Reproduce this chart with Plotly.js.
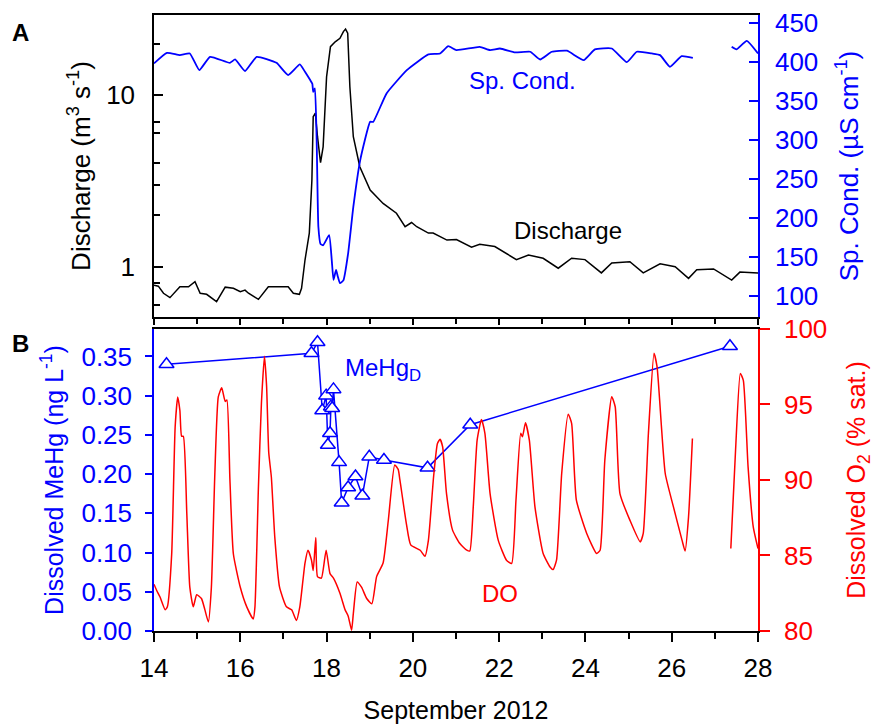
<!DOCTYPE html>
<html>
<head>
<meta charset="utf-8">
<script src="https://cdn.plot.ly/plotly-3.0.1.min.js"></script>
<style>body{margin:0;background:#fff}</style>
</head>
<body>
<div id="chart" style="width:874px;height:724px"></div>
<script>
// Discharge (m3 s-1), panel A, left log axis
const qDays = [14.00,14.10,14.22,14.37,14.60,14.80,14.95,15.07,15.22,15.45,15.65,15.84,16.00,16.11,16.19,16.42,16.65,16.92,17.11,17.23,17.37,17.42,17.50,17.60,17.66,17.69,17.74,17.79,17.86,17.92,18.00,18.09,18.20,18.31,18.39,18.44,18.49,18.54,18.62,18.77,19.01,19.31,19.62,19.82,19.97,20.09,20.36,20.47,20.63,20.79,21.01,21.36,21.55,21.90,22.40,22.68,23.02,23.37,23.68,23.99,24.37,24.61,25.03,25.34,25.73,26.08,26.39,26.58,26.97,27.39,27.58,28.00];
const qValues = [0.78,0.77,0.70,0.66,0.764,0.764,0.818,0.70,0.69,0.625,0.76,0.748,0.715,0.73,0.70,0.645,0.764,0.76,0.764,0.70,0.69,0.748,1.094,1.57,3.2,7.5,7.85,5.73,4.04,5.0,12.8,19.2,20.5,21.5,23.5,24.3,23.0,11.2,5.73,3.83,2.80,2.34,2.05,1.71,1.81,1.71,1.57,1.57,1.50,1.43,1.44,1.30,1.35,1.31,1.10,1.17,1.12,0.98,1.12,1.10,0.92,1.05,1.07,0.92,1.04,1.00,0.855,0.96,0.97,0.836,0.93,0.92];

// Specific conductance (uS cm-1), panel A, right axis (null = data gap)
const scDays = [14.00,14.30,14.60,14.83,15.05,15.30,15.76,15.88,16.11,16.38,16.84,17.11,17.38,17.50,17.62,17.67,17.69,17.73,17.77,17.81,17.86,17.92,18.06,18.12,18.16,18.22,18.26,18.31,18.39,18.50,18.62,18.78,19.01,19.08,19.39,19.86,20.36,20.63,20.82,21.01,21.55,21.79,22.02,22.37,22.72,22.95,23.22,23.57,23.96,24.22,24.61,24.96,25.19,25.54,25.73,25.96,26.23,26.49,26.90,27.39,27.50,27.74,28.00];
const scValues = [398,411.5,408.6,410.7,389.4,406.4,398.7,403,388.1,406.4,398.7,383,396.6,387.2,376.6,372,361.6,366,299.7,188.7,166.6,165,178,146,120.5,133.3,125,116.3,120,154.7,214,274,323.2,323,359.5,389.4,409.5,410.7,420.1,415,419.2,415,417.1,412,412.9,403,412.9,414.2,402.2,415.9,417.1,399.6,412.9,410.7,408.6,393.6,407.3,405.1,null,419.2,415.9,426.9,410.8];

// Dissolved oxygen (% sat.), panel B, right axis (null = data gap)
const doDays = [14.00,14.06,14.14,14.26,14.31,14.41,14.49,14.55,14.60,14.64,14.68,14.76,14.83,14.91,14.99,15.10,15.18,15.26,15.33,15.41,15.49,15.57,15.65,15.69,15.76,15.84,16.00,16.15,16.30,16.34,16.42,16.49,16.56,16.61,16.66,16.72,16.80,16.91,17.07,17.19,17.30,17.38,17.50,17.57,17.65,17.69,17.75,17.79,17.88,17.99,18.08,18.16,18.31,18.43,18.50,18.58,18.62,18.71,18.81,18.93,19.05,19.16,19.31,19.43,19.58,19.66,19.70,19.85,19.95,20.17,20.28,20.36,20.48,20.57,20.63,20.69,20.78,20.92,21.09,21.25,21.32,21.40,21.49,21.59,21.67,21.79,21.98,22.17,22.29,22.39,22.50,22.54,22.61,22.70,22.83,23.02,23.18,23.25,23.33,23.45,23.60,23.68,23.79,24.03,24.26,24.34,24.45,24.61,24.69,24.80,25.03,25.27,25.34,25.46,25.59,25.66,25.85,26.04,26.24,26.31,26.39,26.48,26.90,27.37,27.48,27.59,27.66,27.77,27.89,28.00];
const doValues = [83.1,82.7,82.25,81.4,81.6,85.1,93.5,95.5,94.6,92.9,92.9,87.8,82.9,81.6,82.4,82.15,81.4,80.6,82.9,90.4,95.5,96.1,95.2,95.3,90.0,85.1,82.9,81.6,80.8,81.6,89.5,95.1,98.2,96.2,91.8,90.2,86.2,82.9,81.6,81.4,80.7,81.6,84.5,85.35,84.7,84.0,86.2,83.6,83.5,85.35,83.8,83.5,82.5,81.4,81.0,80.05,81.15,83.25,82.9,82.15,81.8,83.6,84.5,87.3,91.0,90.7,90.0,87.1,85.7,85.35,84.95,86.0,90.2,92.42,92.69,92.2,89.1,86.68,85.79,85.35,85.3,88.22,92.64,94.01,93.09,89.1,86.0,84.69,84.47,88.66,93.09,92.86,93.79,92.64,88.22,85.13,84.24,84.07,84.69,90.43,94.36,93.75,88.66,86.46,85.13,85.35,91.32,95.51,94.85,89.1,87.34,85.9,86.46,93.09,98.39,97.5,90.43,88.22,86.0,85.3,87.56,92.75,null,85.46,91.98,97.06,96.6,90.87,86.9,85.46];

// Dissolved MeHg (ng L-1), panel B, left axis
const mehgDays = [14.29,17.65,17.79,17.90,17.99,18.03,18.08,18.10,18.13,18.16,18.29,18.35,18.50,18.67,18.83,18.99,19.33,20.34,21.33,27.35];
const mehgValues = [0.340,0.354,0.368,0.281,0.300,0.237,0.252,0.286,0.284,0.308,0.215,0.1635,0.183,0.197,0.1725,0.222,0.218,0.208,0.263,0.363];

const mehgTicks = [0.00,0.05,0.10,0.15,0.20,0.25,0.30,0.35];
const doTicks = [80,85,90,95,100];
const scTicks = [100,150,200,250,300,350,400,450];
const qTicks = [1,10];
const qMinorTicks = [0.6,0.8,2,3,4,6,7,20];

const FONT = 'Liberation Sans, Arial, Helvetica, sans-serif';
const BLUE = '#0000ff', RED = '#ff0000', BLACK = '#000000';

const traces = [
  {x: doDays, y: doValues, xaxis: 'x', yaxis: 'y2', type: 'scatter', mode: 'lines',
   line: {color: RED, width: 1.5, shape: 'spline', smoothing: 0.5}, connectgaps: false, name: 'DO'},
  {x: mehgDays, y: mehgValues, xaxis: 'x', yaxis: 'y', type: 'scatter', mode: 'lines+markers',
   line: {color: BLUE, width: 1.5},
   marker: {symbol: 'triangle-up', size: 13, color: '#ffffff', line: {color: BLUE, width: 1.5}},
   name: 'MeHg'},
  {x: qDays, y: qValues, xaxis: 'x2', yaxis: 'y3', type: 'scatter', mode: 'lines',
   line: {color: BLACK, width: 1.5}, name: 'Discharge'},
  {x: scDays, y: scValues, xaxis: 'x2', yaxis: 'y4', type: 'scatter', mode: 'lines',
   line: {color: BLUE, width: 1.8, shape: 'spline', smoothing: 0.4}, connectgaps: false, name: 'Sp. Cond.'}
];

const layout = {
  width: 874, height: 724,
  margin: {l: 154, r: 116, t: 15, b: 93, pad: 0},
  paper_bgcolor: '#ffffff', plot_bgcolor: '#ffffff',
  showlegend: false,
  font: {family: FONT, size: 26, color: BLACK},
  xaxis: {
    domain: [0, 1], anchor: 'y', range: [14, 28],
    tickmode: 'array', tickvals: [14,16,18,20,22,24,26,28],
    ticks: 'outside', ticklen: 9, tickwidth: 1.5, tickcolor: BLACK,
    minor: {tickmode: 'array', tickvals: [15,17,19,21,23,25,27], ticks: 'outside', ticklen: 6, tickwidth: 1.5, tickcolor: BLACK, showgrid: false},
    showline: true, linecolor: BLACK, linewidth: 1.5, mirror: true,
    showgrid: false, zeroline: false,
    tickfont: {family: FONT, size: 26, color: BLACK}, ticklabelstandoff: 4,
    title: {text: 'September 2012', font: {family: FONT, size: 25, color: BLACK}, standoff: 20}
  },
  xaxis2: {
    domain: [0, 1], anchor: 'y3', matches: 'x', range: [14, 28],
    tickmode: 'array', tickvals: [14,16,18,20,22,24,26,28], showticklabels: false,
    ticks: 'outside', ticklen: 6, tickwidth: 1.5, tickcolor: BLACK,
    minor: {tickmode: 'array', tickvals: [15,17,19,21,23,25,27], ticks: 'outside', ticklen: 5, tickwidth: 1.5, tickcolor: BLACK, showgrid: false},
    showline: true, linecolor: BLACK, linewidth: 1.5, mirror: true,
    showgrid: false, zeroline: false
  },
  yaxis: {
    domain: [0, 0.4903], anchor: 'x', side: 'left', range: [0, 0.385],
    tickmode: 'array', tickvals: mehgTicks, tickformat: '.2f',
    ticks: 'outside', ticklen: 7, tickwidth: 1.5, tickcolor: BLUE,
    showline: true, linecolor: BLUE, linewidth: 1.5,
    showgrid: false, zeroline: false,
    tickfont: {family: FONT, size: 26, color: BLUE}, ticklabelstandoff: 8,
    title: {text: 'Dissolved MeHg (ng L<sup>-1</sup>)', font: {family: FONT, size: 25, color: BLUE}, standoff: 11}
  },
  yaxis2: {
    overlaying: 'y', anchor: 'x', side: 'right', range: [80, 100],
    tickmode: 'array', tickvals: doTicks,
    ticks: 'outside', ticklen: 10, tickwidth: 1.5, tickcolor: RED,
    showline: true, linecolor: RED, linewidth: 1.5,
    showgrid: false, zeroline: false,
    tickfont: {family: FONT, size: 26, color: RED}, ticklabelstandoff: 9,
    title: {text: 'Dissolved O<sub>2</sub> (% sat.)', font: {family: FONT, size: 25, color: RED}, standoff: 24}
  },
  yaxis3: {
    domain: [0.5097, 1], anchor: 'x2', side: 'left', type: 'log', range: [-0.2935, 1.468],
    tickmode: 'array', tickvals: qTicks, ticktext: ['1', '10'],
    ticks: 'inside', ticklen: 9, tickwidth: 1.5, tickcolor: BLACK,
    minor: {tickmode: 'array', tickvals: qMinorTicks, ticks: 'inside', ticklen: 6, tickwidth: 1.5, tickcolor: BLACK, showgrid: false},
    showline: true, linecolor: BLACK, linewidth: 1.5,
    showgrid: false, zeroline: false,
    tickfont: {family: FONT, size: 26, color: BLACK}, ticklabelstandoff: 12,
    title: {text: 'Discharge (m<sup>3</sup> s<sup>-1</sup>)', font: {family: FONT, size: 26, color: BLACK}, standoff: 8}
  },
  yaxis4: {
    overlaying: 'y3', anchor: 'x2', side: 'right', range: [73, 460],
    tickmode: 'array', tickvals: scTicks,
    ticks: 'inside', ticklen: 9, tickwidth: 1.5, tickcolor: BLUE,
    showline: true, linecolor: BLUE, linewidth: 1.5,
    showgrid: false, zeroline: false,
    tickfont: {family: FONT, size: 26, color: BLUE}, ticklabelstandoff: 10,
    title: {text: 'Sp. Cond. (µS cm<sup>-1</sup>)', font: {family: FONT, size: 26, color: BLUE}, standoff: 22}
  },
  annotations: [
    {text: '<b>A</b>', xref: 'paper', yref: 'paper', x: -0.238, y: 0.9724, xanchor: 'left', yanchor: 'middle', showarrow: false, font: {family: FONT, size: 24, color: BLACK}},
    {text: '<b>B</b>', xref: 'paper', yref: 'paper', x: -0.238, y: 0.466, xanchor: 'left', yanchor: 'middle', showarrow: false, font: {family: FONT, size: 24, color: BLACK}},
    {text: 'Sp. Cond.', xref: 'x2', yref: 'y4', x: 22.54, y: 376, xanchor: 'center', yanchor: 'middle', showarrow: false, font: {family: FONT, size: 24, color: BLUE}},
    {text: 'Discharge', xref: 'x2', yref: 'y4', x: 23.585, y: 183.5, xanchor: 'center', yanchor: 'middle', showarrow: false, font: {family: FONT, size: 24, color: BLACK}},
    {text: 'MeHg<sub>D</sub>', xref: 'x', yref: 'y', x: 18.37, y: 0.333, xanchor: 'left', yanchor: 'middle', showarrow: false, font: {family: FONT, size: 24, color: BLUE}},
    {text: 'DO', xref: 'x', yref: 'y2', x: 22.03, y: 82.5, xanchor: 'center', yanchor: 'middle', showarrow: false, font: {family: FONT, size: 24, color: RED}}
  ]
};

Plotly.newPlot('chart', traces, layout, {displayModeBar: false, responsive: false});
</script>
</body>
</html>
